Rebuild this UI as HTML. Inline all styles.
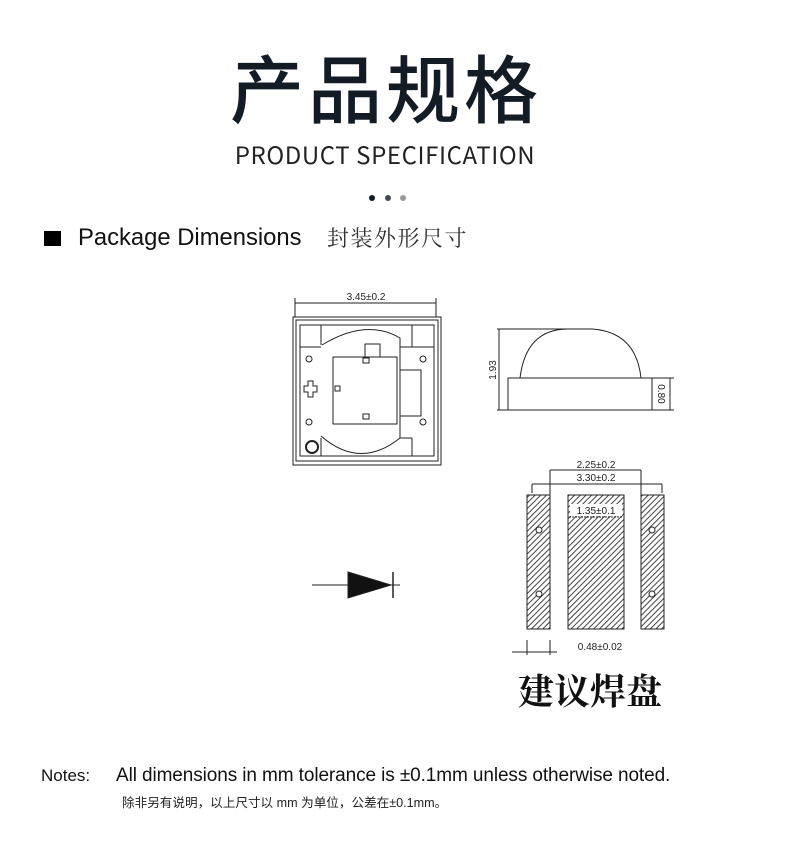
<!DOCTYPE html>
<html><head><meta charset="utf-8"><style>
html,body{margin:0;padding:0;background:#fff;}
body{width:790px;height:849px;position:relative;overflow:hidden;font-family:"Liberation Sans","Noto Sans CJK SC",sans-serif;}
.t{position:absolute;white-space:nowrap;}
</style></head><body>
<div class="t" style="left:0;width:772px;text-align:center;top:36px;font-family:'Noto Sans CJK SC',sans-serif;font-size:74px;font-weight:500;color:#131b25;line-height:100px;letter-spacing:4px;">产品规格</div>
<div class="t" style="left:0;width:770px;text-align:center;top:139px;font-family:'Noto Sans CJK SC',sans-serif;font-size:24px;color:#222;line-height:30px;letter-spacing:0.6px;">PRODUCT SPECIFICATION</div>
<div class="t" style="left:369px;top:195px;width:6px;height:6px;border-radius:50%;background:#131b25"></div>
<div class="t" style="left:385px;top:195px;width:6px;height:6px;border-radius:50%;background:#444b55"></div>
<div class="t" style="left:400px;top:195px;width:6px;height:6px;border-radius:50%;background:#999"></div>
<div class="t" style="left:44px;top:231px;width:17px;height:15px;background:#000"></div>
<div class="t" style="left:78px;top:223px;font-size:23.8px;color:#111;line-height:30px;">Package Dimensions</div>
<div class="t" style="left:327px;top:224px;font-family:'Noto Serif CJK SC',serif;font-size:22px;color:#333;line-height:28px;letter-spacing:1.5px;">封装外形尺寸</div>

<svg class="t" style="left:0;top:0" width="790" height="849" viewBox="0 0 790 849" fill="none" stroke="#222" stroke-width="1">
<text x="366" y="300" font-size="10" fill="#222" stroke="none" text-anchor="middle" font-family="Liberation Sans">3.45±0.2</text>
<line x1="295" y1="303" x2="436" y2="303"/>
<line x1="295" y1="298" x2="295" y2="317"/><line x1="436" y1="298" x2="436" y2="317"/>
<rect x="293" y="317" width="148" height="148"/>
<rect x="296" y="320" width="142" height="141"/>
<rect x="300" y="325" width="134" height="131"/>
<path d="M321 325V345M412 325V345M300 347H321M412 347H434"/>
<path d="M322 345 Q366 318 400 338 L400 347 L412 347 L412 342 M321 436 Q360 470 400 438 L412 438 M321 438 L321 456 M412 438 L412 456"/>
<path d="M400 347 V438"/>
<rect x="333" y="357" width="64" height="67"/>
<path d="M365 357V344H380V357"/>
<rect x="363" y="358" width="6" height="5"/><rect x="335" y="386" width="5" height="5"/><rect x="363" y="414" width="6" height="5"/>
<rect x="400" y="370" width="21" height="46"/>
<circle cx="309" cy="359" r="3"/><circle cx="423" cy="359" r="3"/><circle cx="309" cy="422" r="3"/><circle cx="423" cy="422" r="3"/>
<path d="M304 386h4v-5h5v5h4v6h-4v5h-5v-5h-4z"/>
<circle cx="312" cy="447" r="6" stroke-width="2"/>
<rect x="508" y="378" width="144" height="32"/>
<path d="M520 378 Q526 329 568 329 L592 329 Q636 332 641 378"/>
<line x1="499" y1="329" x2="499" y2="410"/><line x1="497" y1="329" x2="568" y2="329"/><line x1="497" y1="410" x2="508" y2="410"/>
<text transform="translate(496 370) rotate(-90)" font-size="10" fill="#222" stroke="none" text-anchor="middle">1.93</text>
<line x1="670" y1="378" x2="670" y2="410"/><line x1="652" y1="378" x2="674" y2="378"/><line x1="652" y1="410" x2="674" y2="410"/>
<text transform="translate(658 394) rotate(90)" font-size="10" fill="#222" stroke="none" text-anchor="middle">0.80</text>
<defs><pattern id="h" width="4" height="4" patternUnits="userSpaceOnUse" patternTransform="rotate(45)"><rect width="4" height="4" fill="#fff" stroke="none"/><line x1="0" y1="0" x2="0" y2="4" stroke="#444" stroke-width="2"/></pattern></defs>
<rect x="527" y="495" width="23" height="134" fill="url(#h)"/>
<rect x="568" y="495" width="56" height="134" fill="url(#h)"/>
<rect x="641" y="495" width="23" height="134" fill="url(#h)"/>
<circle cx="539" cy="530" r="3" fill="#fff"/><circle cx="539" cy="594" r="3" fill="#fff"/>
<circle cx="652" cy="530" r="3" fill="#fff"/><circle cx="652" cy="594" r="3" fill="#fff"/>
<line x1="550" y1="470" x2="641" y2="470"/><line x1="550" y1="470" x2="550" y2="495"/><line x1="641" y1="470" x2="641" y2="495"/>
<line x1="532" y1="484" x2="662" y2="484"/><line x1="532" y1="484" x2="532" y2="493"/><line x1="662" y1="484" x2="662" y2="493"/>
<text x="596" y="468" font-size="10" fill="#222" stroke="none" text-anchor="middle">2.25±0.2</text>
<text x="596" y="481" font-size="10" fill="#222" stroke="none" text-anchor="middle">3.30±0.2</text>
<rect x="570" y="504" width="52" height="12" fill="#fff" stroke="none"/>
<text x="596" y="514" font-size="10" fill="#222" stroke="none" text-anchor="middle">1.35±0.1</text>
<line x1="569" y1="517" x2="622" y2="517" stroke-dasharray="2 1"/>
<line x1="512" y1="652" x2="557" y2="652"/><line x1="527" y1="640" x2="527" y2="655"/><line x1="550" y1="640" x2="550" y2="655"/>
<text x="600" y="650" font-size="10" fill="#222" stroke="none" text-anchor="middle">0.48±0.02</text>
<line x1="312" y1="585" x2="400" y2="585"/>
<path d="M348 572 L391 585 L348 598 Z" fill="#111"/>
<line x1="393" y1="572" x2="393" y2="598" stroke-width="1.5"/>
</svg>
<div class="t" style="left:518px;top:668px;font-family:'Noto Serif CJK SC',serif;font-size:36px;font-weight:bold;color:#111;line-height:44px;">建议焊盘</div>
<div class="t" style="left:41px;top:765px;font-size:17px;color:#111;line-height:22px;">Notes:</div>
<div class="t" style="left:116px;top:764px;font-size:19px;color:#111;line-height:24px;letter-spacing:-0.1px;">All dimensions in mm tolerance is ±0.1mm unless otherwise noted.</div>
<div class="t" style="left:122px;top:793px;font-size:12.6px;color:#222;line-height:20px;">除非另有说明，以上尺寸以 mm 为单位，公差在±0.1mm。</div>
</body></html>
